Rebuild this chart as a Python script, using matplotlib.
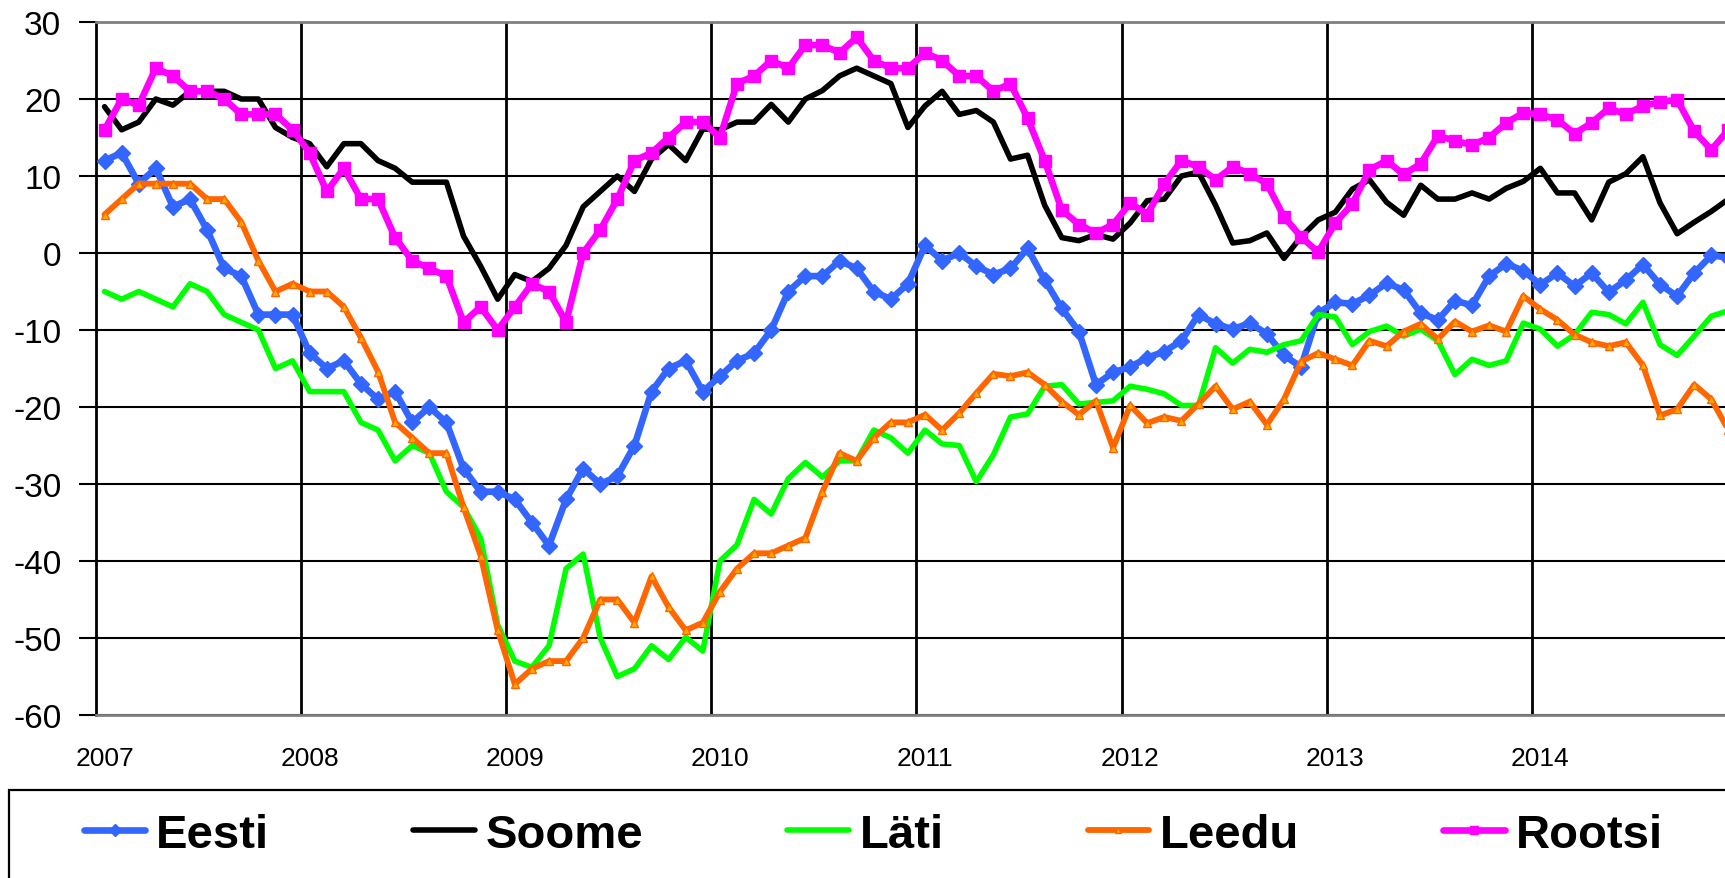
import matplotlib
matplotlib.use("Agg")
import matplotlib.pyplot as plt
from matplotlib.patches import Rectangle
import numpy as np

# monthly values, Jan 2007 .. Dec 2014
years = ["2007", "2008", "2009", "2010", "2011", "2012", "2013", "2014"]

eesti = [12, 13, 9, 11, 6, 7, 3, -2, -3, -8, -8, -8,
         -13, -15, -14, -17, -19, -18, -22, -20, -22, -28, -31, -31,
         -32, -35, -38, -32, -28, -30, -29, -25, -18, -15, -14, -18,
         -16, -14, -13, -10, -5, -3, -3, -1, -2, -5, -6, -4,
         1, -1, 0, -1.7, -2.8, -2, 0.6, -3.5, -7.2, -10.2, -17.1, -15.5,
         -14.8, -13.6, -12.8, -11.4, -8, -9.2, -9.9, -9.1, -10.5, -13.3, -14.8, -7.8,
         -6.4, -6.6, -5.5, -3.9, -4.8, -7.8, -8.7, -6.2, -6.8, -3, -1.4, -2.3,
         -4.1, -2.6, -4.3, -2.6, -5.1, -3.5, -1.5, -4.1, -5.6, -2.6, -0.3, -0.6]

soome = [19, 16, 17, 20, 19.2, 21, 21, 21, 20, 20, 16.3, 15,
         14.2, 11.2, 14.2, 14.2, 12, 11, 9.2, 9.2, 9.2, 2.2, -1.7, -6,
         -2.8, -3.7, -2, 1, 6, 8, 10, 8, 12.2, 14.1, 12, 16.1,
         16, 17, 17, 19.3, 17, 20, 21.1, 23, 24, 23, 22, 16.3,
         19.1, 21, 18, 18.5, 17, 12.2, 12.7, 6.2, 2, 1.6, 2.4, 1.8,
         3.9, 6.8, 7, 10, 10.5, 6.2, 1.3, 1.6, 2.6, -0.7, 2.1, 4.3,
         5.3, 8.3, 9.5, 6.6, 4.9, 8.8, 7, 7, 7.8, 7, 8.4, 9.3,
         11, 7.8, 7.8, 4.3, 9.2, 10.3, 12.5, 6.5, 2.5, 4, 5.4, 7]

lati = [-5, -6, -5, -6, -7, -4, -5, -8, -9, -10, -15, -14,
        -18, -18, -18, -22, -23, -27, -25, -26, -31, -33, -37, -48.3,
        -53, -53.8, -51, -41, -39.1, -50, -55, -54, -51, -52.8, -49.9, -51.7,
        -40, -37.9, -32, -33.9, -29.3, -27.2, -29.1, -27, -27, -23, -24, -26,
        -23, -24.8, -25, -29.7, -26.2, -21.3, -20.9, -17.3, -17.1, -19.6, -19.4, -19.2,
        -17.3, -17.7, -18.3, -19.8, -19.8, -12.3, -14.3, -12.5, -12.9, -11.9, -11.4, -8,
        -8.3, -11.9, -10.2, -9.5, -10.8, -9.9, -11.4, -15.8, -13.8, -14.6, -14, -9.1,
        -9.9, -12.1, -10.6, -7.7, -8, -9.2, -6.4, -11.9, -13.3, -10.8, -8.2, -7.5]

leedu = [5, 7, 9, 9, 9, 9, 7, 7, 4, -1, -5, -4,
         -5, -5, -7, -11, -15.4, -22, -24, -26, -26, -33, -39.3, -49,
         -56, -54, -53, -53, -50, -45, -45, -48, -42, -46, -49, -48,
         -44, -41, -39, -39, -38, -37, -31, -26, -27, -24, -22, -22,
         -21, -23, -20.8, -18.2, -15.7, -16, -15.5, -17.1, -19.3, -21, -19.2, -25.3,
         -19.8, -22.1, -21.3, -21.8, -19.6, -17.3, -20.3, -19.3, -22.3, -19, -14.1, -13,
         -13.8, -14.6, -11.4, -12.1, -10.2, -9.2, -11.2, -8.9, -10.2, -9.4, -10.2, -5.6,
         -7.3, -8.7, -10.6, -11.6, -12.1, -11.6, -14.6, -21.1, -20.3, -17.1, -19, -23]

rootsi = [16, 20, 19.2, 24, 23, 21, 21, 20, 18, 18, 18, 16,
          13, 8, 11, 7, 7, 2, -1, -2, -3, -9, -7, -10,
          -7, -4, -5, -9, 0, 3, 7, 12, 13, 15, 17, 17,
          15, 22, 23, 25, 24, 27, 27, 26, 28, 25, 24, 24,
          26, 25, 23, 23, 21, 22, 17.5, 12, 5.6, 3.7, 2.6, 3.7,
          6.5, 5, 9, 12, 11.2, 9.5, 11.2, 10.3, 9, 4.7, 2.1, 0.1,
          3.9, 6.4, 10.8, 12, 10.2, 11.6, 15.2, 14.6, 14, 15, 16.9, 18.2,
          18, 17.3, 15.5, 16.9, 18.8, 18, 19.1, 19.6, 19.9, 15.8, 13.4, 16]

plt.rcParams['font.family'] = ['Liberation Sans', 'DejaVu Sans']
plt.rcParams['axes.unicode_minus'] = False

fig = plt.figure(figsize=(17.25, 8.79), dpi=100)
ax = fig.add_axes([96 / 1725, 1 - 716 / 879, 1 - 96 / 1725, (716 - 23) / 879])

months = np.arange(len(eesti))
line_kw = dict(solid_joinstyle='round', solid_capstyle='round', zorder=3)

ax.plot(months, eesti, color='#3366FF', lw=4.8, marker='D', ms=8.5, label='Eesti', **line_kw)
ax.plot(months, soome, color='black', lw=4, label='Soome', **line_kw)
ax.plot(months, lati, color='#00FF00', lw=4, label='Läti', **line_kw)
ax.plot(months, leedu, color='#FF6600', lw=4.2, marker='^', ms=6,
        mfc='#FFAA00', mec='#FF6600', mew=1, label='Leedu', **line_kw)
ax.plot(months, rootsi, color='#FF00FF', lw=4.8, marker='s', ms=8, label='Rootsi', **line_kw)

ax.set_xlim(-0.5, 94.8)
ax.set_ylim(-60, 30)
ax.set_yticks(np.arange(-60, 31, 10))
ax.set_xticks(np.arange(0, len(eesti), 12))
ax.set_xticklabels(years, fontsize=19)
ax.set_xticks(np.arange(11.5, len(eesti) - 1, 12), minor=True)

ax.tick_params(axis='y', labelsize=24, length=12, width=1.5, pad=13, direction='out')
ax.tick_params(axis='x', which='major', length=0, pad=22)
ax.tick_params(axis='x', which='minor', length=0)

ax.grid(axis='y', color='black', lw=1.5, zorder=1)
ax.grid(axis='x', which='minor', color='black', lw=2, zorder=1)

ax.spines['left'].set_color('black')
ax.spines['left'].set_linewidth(2)
ax.spines['top'].set_color('#808080')
ax.spines['top'].set_linewidth(2)
ax.spines['bottom'].set_color('#808080')
ax.spines['bottom'].set_linewidth(2)
ax.spines['right'].set_visible(False)

# legend box at the bottom, running off the picture edge
fig.patches.append(Rectangle((9 / 1725, -0.05), 1.2, 0.05 + (1 - 791 / 879),
                             transform=fig.transFigure, fill=False,
                             edgecolor='black', lw=1.6, clip_on=False))
fig.legend(loc='center left', bbox_to_anchor=(84 / 1725, 1 - 836 / 879),
           ncol=5, frameon=False, borderpad=0, borderaxespad=0,
           prop={'weight': 'bold', 'size': 34},
           handlelength=1.3, handletextpad=0.23, columnspacing=3.05,
           markerscale=0.7)

fig.savefig('out.png', dpi=100)
